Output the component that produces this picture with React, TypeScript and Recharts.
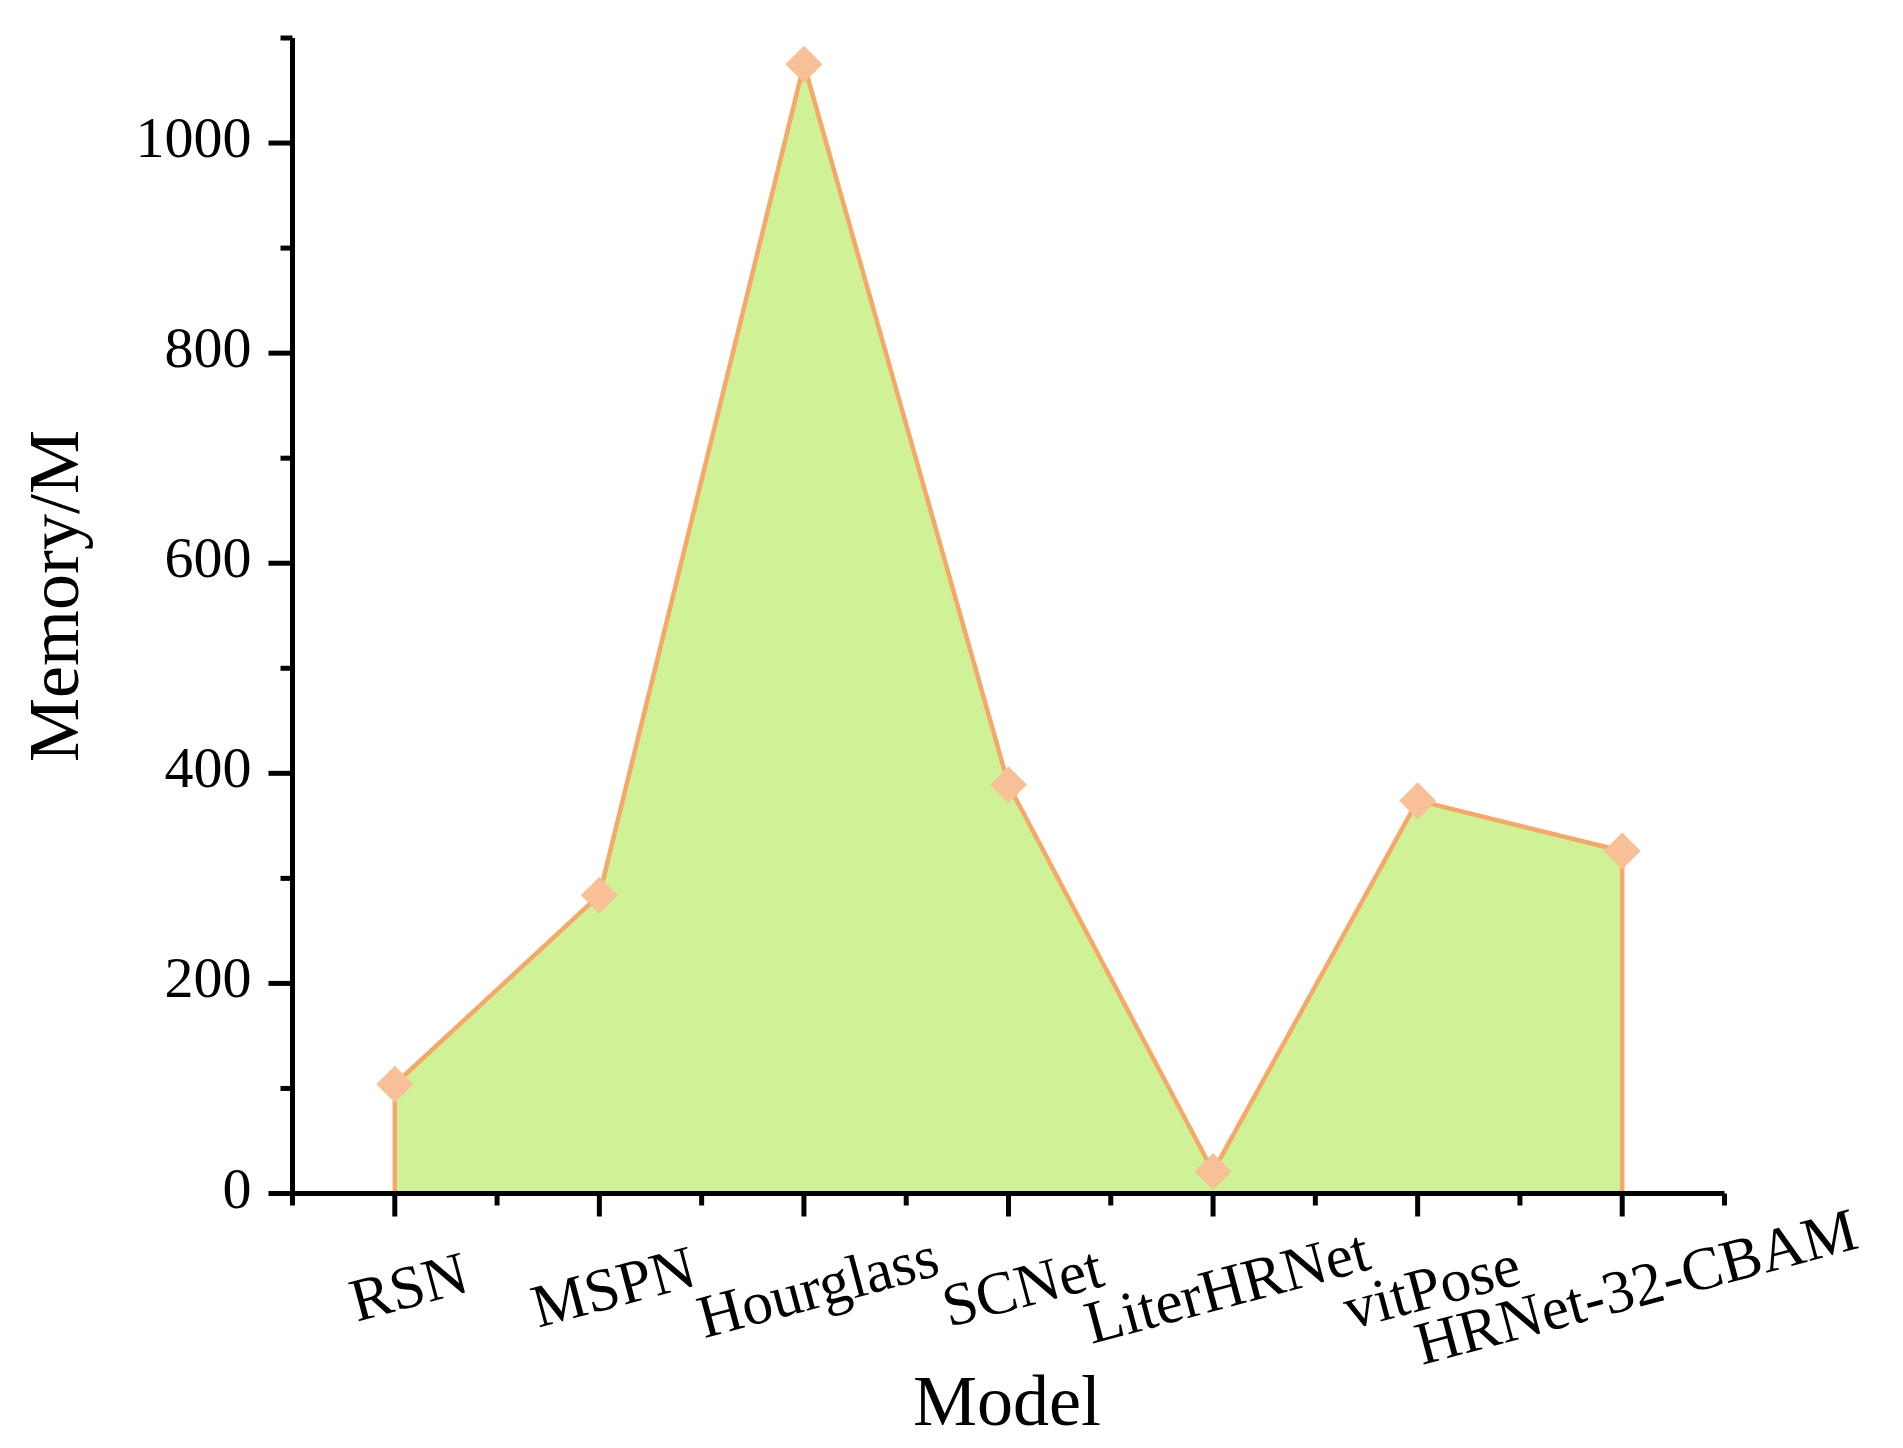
import React from 'react';
import { AreaChart, Area, XAxis, YAxis, ReferenceLine } from 'recharts';

const categories = ['RSN', 'MSPN', 'Hourglass', 'SCNet', 'LiterHRNet', 'vitPose', 'HRNet-32-CBAM'];
const memory = [104, 284, 1075, 389, 21, 374, 326];
const yMajorTicks = [0, 200, 400, 600, 800, 1000];
const yMinorTicks = [100, 300, 500, 700, 900, 1100];
const xTitle = 'Model';
const yTitle = 'Memory/M';

const data = categories.map((name, i) => ({ idx: i, name, memory: memory[i] }));
const xTicks: number[] = [-0.5];
categories.forEach((_, i) => { xTicks.push(i); xTicks.push(i + 0.5); });
const yTicks = [...yMajorTicks, ...yMinorTicks].sort((a, b) => a - b);

const FONT = '"Liberation Serif", "Times New Roman", serif';
const LINE = '#F5A868';
const FILL = '#CFF296';
const DIAMOND = '#F7C096';

const XTick = (props: any) => {
  const { x, y, payload } = props;
  const v = payload.value;
  const major = Number.isInteger(v);
  if (!major) {
    return <line x1={x} y1={y} x2={x} y2={y + 12} stroke="#000" strokeWidth={5} />;
  }
  const cx = x + 14;
  const cy = y + 93.5;
  return (
    <g>
      <line x1={x} y1={y} x2={x} y2={y + 23} stroke="#000" strokeWidth={5} />
      <text
        x={cx}
        y={cy}
        dy={20}
        textAnchor="middle"
        fontFamily={FONT}
        fontSize={61}
        fill="#000"
        transform={`rotate(-15, ${cx}, ${cy})`}
      >
        {categories[v]}
      </text>
    </g>
  );
};

const YTick = (props: any) => {
  const { x, y, payload } = props;
  const v = payload.value;
  const major = yMajorTicks.includes(v);
  if (!major) {
    return <line x1={x - 12} y1={y} x2={x} y2={y} stroke="#000" strokeWidth={5} />;
  }
  return (
    <g>
      <line x1={x - 24} y1={y} x2={x} y2={y} stroke="#000" strokeWidth={5} />
      <text x={x - 41} y={y} dy={14} textAnchor="end" fontFamily={FONT} fontSize={58} fill="#000">
        {v}
      </text>
    </g>
  );
};

const Diamond = (props: any) => {
  const { cx, cy, index } = props;
  if (cx == null || cy == null) return <g key={`d-${index}`} />;
  const r = 18.5;
  return (
    <polygon
      key={`d-${index}`}
      points={`${cx},${cy - r} ${cx + r},${cy} ${cx},${cy + r} ${cx - r},${cy}`}
      fill={DIAMOND}
      stroke="none"
    />
  );
};

const XLabel = (props: any) => {
  const vb = props.viewBox || {};
  return (
    <text x={vb.x + vb.width / 2 - 1.5} y={vb.y + 231.5} textAnchor="middle" fontFamily={FONT} fontSize={72} fill="#000">
      {xTitle}
    </text>
  );
};

const YLabel = () => {
  const x = 77.6;
  const y = 596;
  return (
    <text x={x} y={y} textAnchor="middle" fontFamily={FONT} fontSize={72} fill="#000" transform={`rotate(-90, ${x}, ${y})`}>
      {yTitle}
    </text>
  );
};

export default function App() {
  const last = categories.length - 1;
  return (
    <div style={{ position: 'absolute', left: 0, top: 0, width: 1903, height: 1448, background: '#fff' }}>
      <AreaChart
        width={1903}
        height={1448}
        data={data}
        margin={{ top: 38, right: 178.5, bottom: 104.5, left: 0 }}
      >
        <XAxis
          dataKey="idx"
          type="number"
          domain={[-0.5, categories.length - 0.5]}
          ticks={xTicks}
          interval={0}
          height={150}
          tickSize={0}
          tickMargin={0}
          tickLine={false}
          axisLine={{ stroke: '#000', strokeWidth: 5 }}
          tick={<XTick />}
          label={<XLabel />}
        />
        <YAxis
          type="number"
          domain={[0, 1100]}
          ticks={yTicks}
          interval={0}
          width={292.5}
          tickSize={0}
          tickMargin={0}
          tickLine={false}
          axisLine={{ stroke: '#000', strokeWidth: 5 }}
          tick={<YTick />}
          label={<YLabel />}
        />
        <ReferenceLine
          segment={[{ x: 0, y: 0 }, { x: 0, y: memory[0] }]}
          stroke={LINE}
          strokeWidth={4.5}
        />
        <ReferenceLine
          segment={[{ x: last, y: 0 }, { x: last, y: memory[last] }]}
          stroke={LINE}
          strokeWidth={4.5}
        />
        <Area
          type="linear"
          dataKey="memory"
          stroke={LINE}
          strokeWidth={4.5}
          fill={FILL}
          fillOpacity={1}
          dot={<Diamond />}
          activeDot={false}
          isAnimationActive={false}
        />
      </AreaChart>
    </div>
  );
}
